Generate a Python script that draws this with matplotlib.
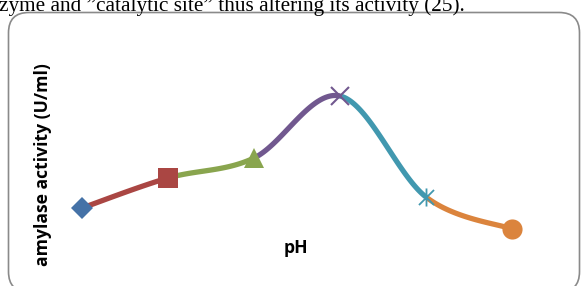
import numpy as np
import matplotlib
matplotlib.use("Agg")
import matplotlib.pyplot as plt
from matplotlib.patches import FancyBboxPatch
from matplotlib.path import Path

# ---- data ----
ph = [4, 5, 6, 7, 8, 9]
activity = [0.46, 0.61, 0.71, 1.02, 0.515, 0.355]
marker_colors = ["#4572A7", "#AA4643", "#89A54E", "#71588F", "#4198AF", "#DB843D"]
caption = "zyme and \u201dcatalytic site\u201d thus altering its activity (25)."
ylabel = "amylase activity (U/ml)"
xlabel = "pH"

W, H = 581, 286
fig = plt.figure(figsize=(W / 100, H / 100), dpi=100)

# caption text (cropped at the top)
fig.text(-1 / W, 1 - 11.0 / H, caption, family="Liberation Serif", fontsize=15.3,
         ha="left", va="baseline", color="black")

# rounded frame
frame = FancyBboxPatch((8.5 / W, -6 / H), 571 / W, (286 - 12.5 + 6) / H,
                       boxstyle="round,pad=0,rounding_size=0.035",
                       transform=fig.transFigure, facecolor="none",
                       edgecolor="#8a8a8a", linewidth=1.2, mutation_aspect=W / H,
                       zorder=-1)
fig.patches.append(frame)

# axes: x 3.5..9.5 -> px 39..555 ; y 0.2..1.2 -> px 260..60
ax = fig.add_axes([39 / W, (H - 260) / H, 516 / W, 200 / H])
ax.set_xlim(3.5, 9.5)
ax.set_ylim(0.2, 1.2)
ax.axis("off")
ax.patch.set_alpha(0)

# smoothed (Catmull-Rom / Excel-like) segments
x = np.array(ph, float)
y = np.array(activity, float)
n = len(x)
t = np.linspace(0, 1, 60)
for i in range(n - 1):
    p0 = np.array([x[max(i - 1, 0)], y[max(i - 1, 0)]])
    p1 = np.array([x[i], y[i]])
    p2 = np.array([x[i + 1], y[i + 1]])
    p3 = np.array([x[min(i + 2, n - 1)], y[min(i + 2, n - 1)]])
    c1 = p1 + (p2 - p0) / 6.0
    c2 = p2 - (p3 - p1) / 6.0
    pts = ((1 - t) ** 3)[:, None] * p1 + (3 * (1 - t) ** 2 * t)[:, None] * c1 \
        + (3 * (1 - t) * t ** 2)[:, None] * c2 + (t ** 3)[:, None] * p2
    ax.plot(pts[:, 0], pts[:, 1], color=marker_colors[i + 1], lw=3.8,
            solid_capstyle="butt", zorder=2 + i)

# markers
star = Path([(-1, -1), (1, 1), (-1, 1), (1, -1), (0, -1.2), (0, 1.2)],
            [Path.MOVETO, Path.LINETO, Path.MOVETO, Path.LINETO, Path.MOVETO, Path.LINETO])
styles = [
    dict(marker="D", ms=11.5, mew=0),
    dict(marker="s", ms=14, mew=0),
    dict(marker="^", ms=14.5, mew=0),
    dict(marker="x", ms=13.5, mew=1.5),
    dict(marker=star, ms=13, mew=1.3),
    dict(marker="o", ms=14.5, mew=0),
]
for i in range(n):
    st = styles[i]
    ax.plot([x[i]], [y[i]], linestyle="none", marker=st["marker"], ms=st["ms"],
            mew=st["mew"], color=marker_colors[i], mec=marker_colors[i],
            zorder=3 + i)

fig.text(43 / W, 1 - 165 / H, ylabel, rotation=90, ha="center", va="center",
         family="Open Sans", fontweight="bold", fontsize=12.6)
fig.text(296 / W, 1 - 248 / H, xlabel, ha="center", va="center",
         family="Open Sans", fontweight="bold", fontsize=12.6)

fig.savefig("out.png", dpi=100)
